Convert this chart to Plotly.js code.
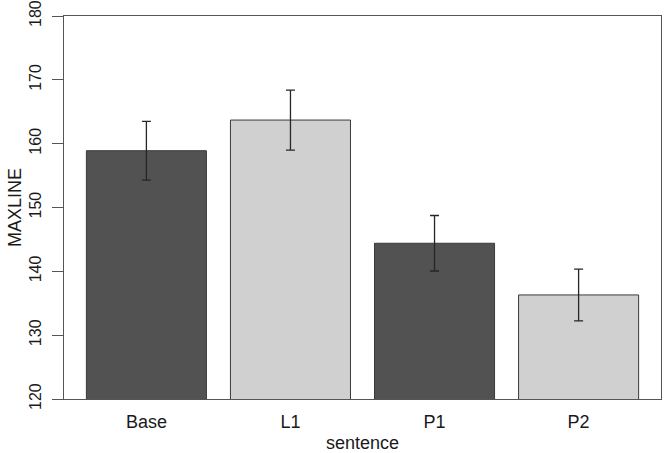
<!DOCTYPE html>
<html>
<head>
<meta charset="utf-8">
<script src="https://cdn.plot.ly/plotly-3.0.1.min.js"></script>
<style>html,body{margin:0;padding:0;background:#fff;}#chart{width:664px;height:453px;}</style>
</head>
<body>
<div id="chart"></div>
<script>
const categories = ["Base", "L1", "P1", "P2"];
const meanValues = [158.9, 163.7, 144.4, 136.3];
const errorValues = [4.6, 4.7, 4.35, 4.05];

const barColors = ["#525252", "#d0d0d0", "#525252", "#d0d0d0"];
const fontFam = "Liberation Sans, Arial, Helvetica, sans-serif";

const trace = {
  type: "bar",
  x: categories,
  y: meanValues,
  base: 0,
  marker: { color: barColors, line: { color: "#3a3a3a", width: 1 } },
  error_y: { type: "data", array: errorValues, visible: true, color: "#262626", thickness: 1.3, width: 4.5 },
  hoverinfo: "skip"
};

const layout = {
  width: 664, height: 453,
  margin: { l: 64, r: 3, t: 16, b: 54, pad: 0 },
  paper_bgcolor: "#ffffff", plot_bgcolor: "#ffffff",
  bargap: 0.1667,
  showlegend: false,
  font: { family: fontFam, color: "#1a1a1a" },
  xaxis: {
    type: "category",
    range: [-0.572, 3.572],
    showline: true, mirror: true, linecolor: "#555", linewidth: 1,
    ticks: "", showgrid: false, zeroline: false,
    tickfont: { size: 18, family: fontFam, color: "#1a1a1a" },
    ticklabelstandoff: 6,
    title: { text: "sentence", font: { size: 18, family: fontFam, color: "#1a1a1a" }, standoff: 6 }
  },
  yaxis: {
    range: [120, 180],
    tickvals: [120, 130, 140, 150, 160, 170, 180],
    ticktext: ["120", "130", "140", "150", "160", "170", "180"],
    showline: true, mirror: true, linecolor: "#555", linewidth: 1,
    ticks: "outside", ticklen: 11, tickcolor: "#555", tickwidth: 1,
    showgrid: false, zeroline: false,
    tickangle: -90,
    ticklabeloverflow: "allow",
    ticklabelstandoff: 5,
    tickfont: { size: 16, family: fontFam, color: "#1a1a1a" },
    title: { text: "MAXLINE", font: { size: 18, family: fontFam, color: "#1a1a1a" }, standoff: 0 }
  }
};

Plotly.newPlot("chart", [trace], layout, { staticPlot: true, displayModeBar: false });
</script>
</body>
</html>
